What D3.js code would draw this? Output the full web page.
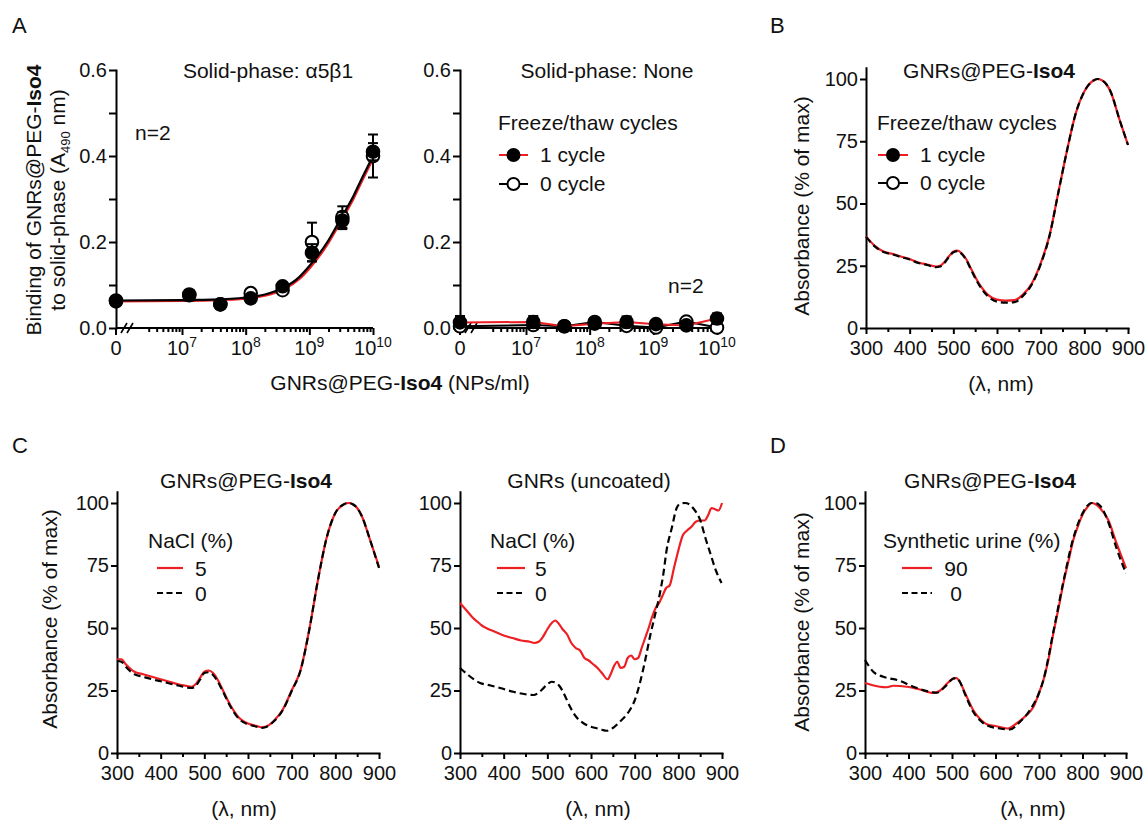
<!DOCTYPE html>
<html>
<head>
<meta charset="utf-8">
<script src="https://cdn.jsdelivr.net/npm/d3@7"></script>
<style>
  body { margin: 0; background: #fff; }
</style>
</head>
<body>
<svg id="fig" width="1148" height="822"></svg>
<script>
var FONT = '"Liberation Sans", Arial, Helvetica, sans-serif';
var RED = "#ee1f24";
var INK = "#111";

// ---------- panel A : binding to solid phase ----------
var concA = [0, 1.3e7, 4e7, 1.2e8, 3.8e8, 1.1e9, 3.3e9, 1e10];
var a5b1One = [0.062, 0.078, 0.055, 0.069, 0.097, 0.175, 0.25, 0.41];
var a5b1OneErr = [0, 0.01, 0, 0, 0.004, 0.02, 0.02, 0.02];
var a5b1Zero = [0.064, 0.076, 0.055, 0.081, 0.088, 0.2, 0.258, 0.4];
var a5b1ZeroErr = [0, 0.012, 0, 0, 0, 0.045, 0.025, 0.05];
var fitConc = [0, 1e7, 3e7, 1e8, 2e8, 4e8, 7e8, 1e9, 2e9, 3e9, 5e9, 7e9, 1e10];
var fitOne = [0.062, 0.063, 0.064, 0.068, 0.075, 0.09, 0.114, 0.138, 0.198, 0.243, 0.302, 0.347, 0.393];
var fitZero = [0.064, 0.065, 0.066, 0.071, 0.078, 0.094, 0.119, 0.144, 0.204, 0.25, 0.309, 0.354, 0.4];
var noneOne = [0.013, 0.014, 0.004, 0.01, 0.014, 0.009, 0.006, 0.022];
var noneOneErr = [0.015, 0.014, 0.002, 0.004, 0.013, 0.003, 0.003, 0.012];
var noneZero = [0.004, 0.007, 0.004, 0.014, 0.005, 0.001, 0.015, 0.001];
var bindTicks = [0, 0.1, 0.2, 0.3, 0.4, 0.5, 0.6];
var decades = [7, 8, 9, 10];

// ---------- panel B : freeze/thaw ----------
var nmB = [300, 320, 340, 360, 380, 400, 420, 440, 460, 470, 480, 490, 500, 510, 520, 530, 540, 560, 580, 600, 620, 640, 660, 680, 700, 720, 740, 760, 780, 800, 820, 830, 840, 850, 860, 880, 900];
var bOneCycle = [36.8, 33, 30.7, 29.8, 28.7, 27.7, 26.3, 25.5, 24.7, 25, 26.5, 28.8, 30.6, 31.1, 29.8, 27.5, 24, 17.5, 13.2, 11.4, 11, 11.2, 13.5, 18, 26, 37, 54, 71, 86, 95, 99.3, 100, 99.5, 98, 95, 84, 73.5];
var bZeroCycle = [36.6, 32.8, 30.5, 29.6, 28.5, 27.5, 26.1, 25.3, 24.4, 24.7, 26.2, 28.6, 30.4, 30.9, 29.6, 27.2, 23.6, 17, 12.6, 10.6, 10.2, 10.4, 13, 17.6, 25.6, 36.8, 54, 71, 86, 95, 99.3, 100, 99.5, 98, 95, 84, 73.5];

// ---------- panel C : NaCl ----------
var nmC = [300, 310, 320, 340, 360, 380, 400, 420, 440, 460, 470, 480, 490, 500, 510, 520, 530, 540, 560, 580, 600, 620, 630, 640, 660, 680, 700, 720, 740, 760, 780, 800, 820, 830, 840, 850, 860, 880, 900];
var cIsoNaCl5 = [37.5, 37.5, 35.5, 32.5, 31.5, 30.5, 29.5, 28.5, 27.5, 26.8, 26.5, 27.5, 30, 32.5, 33, 32, 29.5, 26, 19, 14, 11.8, 10.8, 10.3, 10.5, 13, 17.5, 25, 33, 49, 69, 86, 96, 99.5, 100, 99.5, 98, 95, 85, 74.5];
var cIsoNaCl0 = [36.8, 36.5, 34.5, 31.5, 30.5, 29.5, 28.7, 27.8, 27, 26.2, 26, 26.8, 29.3, 32, 32.3, 31.2, 28.8, 25.5, 18.5, 13.5, 11.5, 10.5, 10, 10.3, 12.8, 17.2, 24.8, 32.8, 49, 69, 86, 96, 99.5, 100, 99.5, 98, 95, 85, 74];
var nmUnc5 = [300, 310, 320, 330, 340, 350, 360, 380, 400, 420, 440, 460, 470, 480, 490, 500, 510, 518, 525, 535, 545, 555, 565, 575, 585, 595, 605, 615, 625, 638, 645, 652, 660, 668, 676, 684, 692, 700, 708, 716, 724, 732, 740, 748, 756, 764, 772, 780, 790, 800, 810, 820, 830, 840, 850, 860, 868, 876, 884, 892, 900];
var uncNaCl5 = [60, 58, 56, 54, 52.5, 51, 50, 48.5, 47, 46, 45, 44.5, 44, 44.5, 46.5, 49.5, 52, 53, 52, 49.5, 47.5, 44, 42, 41, 38, 37, 35.5, 34, 32, 29.5, 31.5, 34.5, 36.5, 34, 34.5, 38, 39, 37.5, 38, 42, 46, 50, 54.5, 58, 60, 63, 66, 67, 74, 81, 87, 89, 90.5, 92.5, 93, 93, 95, 98, 97.5, 97, 100];
var nmUnc0 = [300, 320, 346, 370, 392, 422, 450, 468, 487, 500, 510, 520, 529, 540, 552, 566, 582, 600, 613, 625, 636, 650, 666, 680, 689, 700, 712, 724, 735, 747, 758, 766, 773, 785, 796, 805, 815, 825, 834, 842, 850, 862, 873, 886, 899];
var uncNaCl0 = [34, 31, 28, 27, 26, 24.5, 23.5, 23.2, 25.2, 27.5, 28.5, 28, 26.5, 23, 18.5, 14.5, 12, 10.5, 9.9, 9.3, 8.9, 10, 12.5, 15, 17.2, 21, 28, 37, 46.5, 55.5, 64, 72, 81, 90, 97.9, 99.8, 100, 99.5, 97.9, 96, 93.2, 86, 80, 73, 68];

// ---------- panel D : synthetic urine ----------
var nmD90 = [300, 320, 334, 350, 365, 396, 426, 457, 472, 490, 503, 510, 518, 530, 549, 565, 580, 600, 610, 629, 648, 671, 687, 700, 710, 720, 733, 745, 756, 768, 779, 790, 802, 812, 821, 830, 840, 859, 878, 900];
var dUrine90 = [28, 27, 26.5, 26.3, 26.9, 26.5, 25.4, 24, 24.9, 28, 29.8, 30, 28.5, 24, 17.1, 13.5, 11.5, 10.8, 10.4, 9.8, 11.8, 15.1, 18.4, 24, 29.1, 36, 47.9, 58, 67.9, 77, 85.3, 91, 96, 98.5, 100, 99.5, 98, 93.3, 84, 73.9];
var nmD0 = [300, 319, 342, 380, 411, 449, 465, 484, 503, 510, 518, 530, 549, 565, 580, 610, 633, 656, 679, 700, 710, 733, 756, 779, 802, 821, 830, 840, 859, 878, 900];
var dUrine0 = [37.2, 32.5, 30.5, 28.9, 26.5, 24.5, 24.1, 26.5, 29.8, 30, 28.5, 23.5, 16.4, 13, 11.1, 9.8, 9.4, 12.4, 17.1, 24, 29.1, 48.5, 68.5, 86, 96.5, 100, 100, 99, 92.5, 82, 71.9];

var wlMajor = [300, 400, 500, 600, 700, 800, 900];
var wlMinor = [350, 450, 550, 650, 750, 850];
var absTicks = [0, 25, 50, 75, 100];

var svg = d3.select("#fig").attr("font-family", FONT);

function txt(g, x, y, s, size, anchor) {
    return g.append("text").attr("x", x).attr("y", y).attr("font-size", size || 21)
        .attr("text-anchor", anchor || "start").attr("fill", INK).text(s);
}

function styleAxis(g) {
    g.attr("font-family", FONT).attr("font-size", 20);
    g.selectAll("path, line").attr("stroke", "#000").attr("stroke-width", 2);
    g.selectAll(".domain").attr("stroke-linecap", "square");
    g.selectAll("text").attr("fill", INK);
}

// title with bold "Iso4"
function isoTitle(g, x, y, prefix, anchor) {
    var t = g.append("text").attr("x", x).attr("y", y).attr("font-size", 21)
        .attr("text-anchor", anchor || "middle").attr("fill", INK);
    t.append("tspan").text(prefix);
    t.append("tspan").attr("font-weight", "bold").text("Iso4");
    return t;
}

function vLabel(g, x, y, s) {
    return g.append("text").attr("transform", "translate(" + x + "," + y + ") rotate(-90)")
        .attr("text-anchor", "middle").attr("font-size", 21).attr("fill", INK).text(s);
}

// ---------- binding panel ----------
function bindingPanel(o) {
    var g = svg.append("g");
    var xl = d3.scaleLog().domain([1e7, 1e10]).range([o.x7, o.x10]);
    var px = function (c) { return c === 0 ? o.zero : xl(c); };
    var y = d3.scaleLinear().domain([0, 0.6]).range([328, 70]);

    g.append("g").attr("transform", "translate(" + o.zero + ",0)")
        .call(d3.axisLeft(y).tickValues(bindTicks).tickSize(7).tickPadding(2).tickSizeOuter(0)
            .tickFormat(function (d) { return Math.round(d * 10) % 2 === 0 ? d3.format(".1f")(d) : ""; }))
        .call(styleAxis);

    var y0 = y(0);
    var minors = [];
    [6, 7, 8, 9].forEach(function (e) {
        d3.range(2, 10).forEach(function (m) { if (m * Math.pow(10, e) >= 3e6) minors.push(m * Math.pow(10, e)); });
    });
    var majors = decades.map(function (e) { return Math.pow(10, e); });
    var gx = g.append("g");
    gx.append("line").attr("x1", o.zero).attr("x2", xl(1e10)).attr("y1", y0).attr("y2", y0)
        .attr("stroke", "#000").attr("stroke-width", 2);
    gx.append("g").attr("transform", "translate(0," + y0 + ")")
        .call(d3.axisBottom(xl).tickValues(minors).tickSize(4).tickFormat(""))
        .call(styleAxis).select(".domain").remove();
    gx.append("g").attr("transform", "translate(0," + y0 + ")")
        .call(d3.axisBottom(xl).tickValues(majors).tickSize(7).tickFormat(""))
        .call(styleAxis).select(".domain").remove();
    gx.append("line").attr("x1", o.zero).attr("x2", o.zero).attr("y1", y0).attr("y2", y0 + 7)
        .attr("stroke", "#000").attr("stroke-width", 2);
    // axis break
    [8, 14].forEach(function (d) {
        gx.append("line").attr("x1", o.zero + d - 3).attr("x2", o.zero + d + 3)
            .attr("y1", y0 + 5).attr("y2", y0 - 5).attr("stroke", "#000").attr("stroke-width", 1.6);
    });
    txt(gx, o.zero, y0 + 27, "0", 20, "middle");
    decades.forEach(function (e) {
        var t = txt(gx, xl(Math.pow(10, e)), y0 + 27, "10", 20, "middle");
        t.append("tspan").attr("dy", -8).attr("font-size", 14).text(e);
    });

    var line = d3.line().x(function (d) { return px(d[0]); }).y(function (d) { return y(d[1]); });

    function series(vals, errs, color, filled, smooth) {
        var pts = d3.zip(concA, vals, errs || concA.map(function () { return 0; }));
        if (!smooth) {
            g.append("path").datum(pts).attr("d", line).attr("fill", "none")
                .attr("stroke", color).attr("stroke-width", 2);
        }
        var eb = g.append("g").attr("stroke", "#000").attr("stroke-width", 2);
        pts.filter(function (d) { return d[2] > 0; }).forEach(function (d) {
            var cx = px(d[0]);
            eb.append("line").attr("x1", cx).attr("x2", cx).attr("y1", y(d[1] - d[2])).attr("y2", y(d[1] + d[2]));
            [d[1] - d[2], d[1] + d[2]].forEach(function (v) {
                if (v < 0) return;
                eb.append("line").attr("x1", cx - 5).attr("x2", cx + 5).attr("y1", y(v)).attr("y2", y(v));
            });
        });
        g.append("g").selectAll("circle").data(pts).join("circle")
            .attr("cx", function (d) { return px(d[0]); }).attr("cy", function (d) { return y(d[1]); })
            .attr("r", 6.3).attr("fill", filled ? "#000" : "#fff").attr("stroke", "#000").attr("stroke-width", 2);
    }

    if (o.fit) {
        var curve = d3.line().x(function (d) { return px(d[0]); }).y(function (d) { return y(d[1]); })
            .curve(d3.curveMonotoneX);
        g.append("path").datum(d3.zip(fitConc, fitOne)).attr("d", curve).attr("fill", "none")
            .attr("stroke", RED).attr("stroke-width", 2.2);
        g.append("path").datum(d3.zip(fitConc, fitZero)).attr("d", curve).attr("fill", "none")
            .attr("stroke", "#000").attr("stroke-width", 2.2);
        series(o.zeroS, o.zeroErr, "#000", false, true);
        series(o.one, o.oneErr, RED, true, true);
    } else {
        series(o.zeroS, o.zeroErr, "#000", false, false);
        series(o.one, o.oneErr, RED, true, false);
    }
    return g;
}

var gA1 = bindingPanel({ zero: 116, x7: 182, x10: 373, fit: true,
    one: a5b1One, oneErr: a5b1OneErr, zeroS: a5b1Zero, zeroErr: a5b1ZeroErr });
var gA2 = bindingPanel({ zero: 460, x7: 526, x10: 717, fit: false,
    one: noneOne, oneErr: noneOneErr, zeroS: noneZero, zeroErr: null });

txt(svg, 12, 33, "A", 22);
txt(svg, 268, 78, "Solid-phase: \u03b15\u03b21", 21, "middle");
txt(svg, 607, 78, "Solid-phase: None", 21, "middle");
txt(svg, 135, 140, "n=2", 21);
txt(svg, 668, 293, "n=2", 21);

// y label of A (two lines)
var yl1 = svg.append("text").attr("transform", "translate(41,200) rotate(-90)")
    .attr("text-anchor", "middle").attr("font-size", 21).attr("fill", INK);
yl1.append("tspan").text("Binding of GNRs@PEG-");
yl1.append("tspan").attr("font-weight", "bold").text("Iso4");
var yl2 = svg.append("text").attr("transform", "translate(65,200) rotate(-90)")
    .attr("text-anchor", "middle").attr("font-size", 21).attr("fill", INK);
yl2.append("tspan").text("to solid-phase (A");
yl2.append("tspan").attr("dy", 5).attr("font-size", 13).text("490");
yl2.append("tspan").attr("dy", -5).text(" nm)");

// x label of A
var xa = isoTitle(svg, 400, 390, "GNRs@PEG-", "middle");
xa.append("tspan").attr("font-weight", "normal").text(" (NPs/ml)");

// legend of A
function markerLegend(x, yTitle, rows, lx1, lx2, tx) {
    txt(svg, x, yTitle, "Freeze/thaw cycles", 21);
    rows.forEach(function (r) {
        svg.append("line").attr("x1", lx1).attr("x2", lx2).attr("y1", r.y).attr("y2", r.y)
            .attr("stroke", r.color).attr("stroke-width", 2);
        svg.append("circle").attr("cx", (lx1 + lx2) / 2).attr("cy", r.y).attr("r", 6)
            .attr("fill", r.filled ? "#000" : "#fff").attr("stroke", "#000").attr("stroke-width", 2);
        txt(svg, tx, r.y + 7, r.label, 21);
    });
}
markerLegend(498, 130, [{ y: 155, color: RED, filled: true, label: "1 cycle" },
    { y: 184, color: "#000", filled: false, label: "0 cycle" }], 499, 528, 540);

// ---------- spectrum panels ----------
function spectrumPanel(o) {
    var g = svg.append("g");
    var k = (o.y0 - o.y100) / 100;
    var x = d3.scaleLinear().domain([300, 900]).range([o.x300, o.x900]);
    var y = d3.scaleLinear().domain([0, 104.5]).range([o.y0, o.y0 - 104.5 * k]);

    g.append("g").attr("transform", "translate(0," + o.y0 + ")")
        .call(d3.axisBottom(x).tickValues(wlMinor).tickSize(4).tickFormat(""))
        .call(styleAxis).select(".domain").remove();
    g.append("g").attr("transform", "translate(0," + o.y0 + ")")
        .call(d3.axisBottom(x).tickValues(wlMajor).tickSize(6).tickPadding(7).tickSizeOuter(0))
        .call(styleAxis);
    g.append("g").attr("transform", "translate(" + o.x300 + ",0)")
        .call(d3.axisLeft(y).tickValues(absTicks).tickSize(6).tickPadding(2).tickSizeOuter(0))
        .call(styleAxis);

    var line = d3.line().x(function (d) { return x(d[0]); }).y(function (d) { return y(d[1]); })
        .curve(d3.curveMonotoneX);
    o.series.forEach(function (s) {
        g.append("path").datum(d3.zip(s.nm, s.v)).attr("d", line).attr("fill", "none")
            .attr("stroke", s.color).attr("stroke-width", 2.2)
            .attr("stroke-dasharray", s.dash ? "7,4" : null);
    });

    if (o.isoTitle) isoTitle(g, o.titleX, 488, "GNRs@PEG-", "middle").attr("y", o.titleY);
    else txt(g, o.titleX, o.titleY, o.title, 21, "middle");
    txt(g, o.xlabX, o.y0 + 63, "(\u03bb, nm)", 21, "middle");
    if (o.ylabX) vLabel(g, o.ylabX, o.ylabY, "Absorbance (% of max)");

    if (o.legend) {
        var L = o.legend;
        txt(g, L.x, L.y, L.title, 21);
        L.rows.forEach(function (r, i) {
            var ry = L.y + 20 + i * 25;
            g.append("line").attr("x1", L.lx1).attr("x2", L.lx2).attr("y1", ry).attr("y2", ry)
                .attr("stroke", r.color).attr("stroke-width", 2.2)
                .attr("stroke-dasharray", r.dash ? "6,3.5" : null);
            txt(g, L.tx, ry + 8, r.label, 21, L.anchor || "start");
        });
    }
    return g;
}

// B
spectrumPanel({ x300: 866, x900: 1128, y0: 328, y100: 79,
    isoTitle: true, titleX: 989, titleY: 78, xlabX: 1001, ylabX: 809, ylabY: 206,
    series: [{ nm: nmB, v: bOneCycle, color: RED }, { nm: nmB, v: bZeroCycle, color: "#000", dash: true }] });
txt(svg, 770, 33, "B", 22);
markerLegend(877, 130, [{ y: 155, color: RED, filled: true, label: "1 cycle" },
    { y: 183, color: "#000", filled: false, label: "0 cycle" }], 878, 908, 920);

// C left
spectrumPanel({ x300: 117, x900: 379, y0: 753, y100: 503,
    isoTitle: true, titleX: 246, titleY: 488, xlabX: 244, ylabX: 57, ylabY: 619,
    series: [{ nm: nmC, v: cIsoNaCl5, color: RED }, { nm: nmC, v: cIsoNaCl0, color: "#000", dash: true }],
    legend: { x: 148, y: 548, title: "NaCl (%)", lx1: 157, lx2: 183, tx: 195,
        rows: [{ label: "5", color: RED }, { label: "0", color: "#000", dash: true }] } });
txt(svg, 12, 453, "C", 22);

// C right
spectrumPanel({ x300: 460, x900: 722, y0: 753, y100: 503,
    title: "GNRs (uncoated)", titleX: 589, titleY: 488, xlabX: 598,
    series: [{ nm: nmUnc5, v: uncNaCl5, color: RED }, { nm: nmUnc0, v: uncNaCl0, color: "#000", dash: true }],
    legend: { x: 490, y: 548, title: "NaCl (%)", lx1: 497, lx2: 525, tx: 535,
        rows: [{ label: "5", color: RED }, { label: "0", color: "#000", dash: true }] } });

// D
spectrumPanel({ x300: 865, x900: 1126, y0: 753, y100: 503,
    isoTitle: true, titleX: 990, titleY: 488, xlabX: 1033, ylabX: 809, ylabY: 622,
    series: [{ nm: nmD90, v: dUrine90, color: RED }, { nm: nmD0, v: dUrine0, color: "#000", dash: true }],
    legend: { x: 883, y: 548, title: "Synthetic urine (%)", lx1: 902, lx2: 932, tx: 956, anchor: "middle",
        rows: [{ label: "90", color: RED }, { label: "0", color: "#000", dash: true }] } });
txt(svg, 770, 453, "D", 22);
</script>
</body>
</html>
